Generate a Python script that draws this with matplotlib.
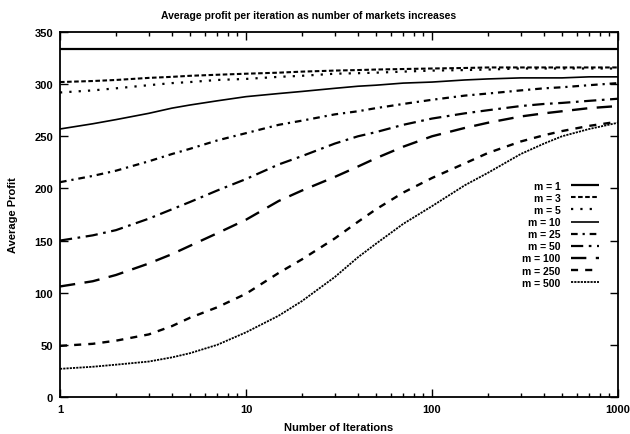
import matplotlib
matplotlib.use("Agg")
import matplotlib.pyplot as plt
from matplotlib.ticker import FixedLocator, LogLocator, NullFormatter

plt.rcParams['font.family'] = ['Liberation Sans', 'DejaVu Sans']
plt.rcParams['font.weight'] = 'bold'

iterations = [1, 1.5, 2, 3, 4, 5, 7, 10, 15, 20, 30, 40, 50, 70, 100,
              150, 200, 300, 400, 500, 700, 1000]
labels = ["m = 1", "m = 3", "m = 5", "m = 10", "m = 25", "m = 50",
          "m = 100", "m = 250", "m = 500"]
m1 = [334, 334, 334, 334, 334, 334, 334, 334, 334, 334, 334, 334, 334,
      334, 334, 334, 334, 334, 334, 334, 334, 334]
m3 = [302, 303, 304, 306, 307, 308, 309, 310, 311, 312, 313, 313.5, 314,
      314.5, 315, 315.5, 316, 316, 316, 316, 316, 316]
m5 = [292, 294, 296, 299, 301, 302, 304, 305, 307, 308, 310, 310.5, 311,
      312, 313, 313.5, 314, 315, 315, 315, 315, 315]
m10 = [257, 262, 266, 272, 277, 280, 284, 288, 291, 293, 296, 298, 299,
       301, 302, 304, 305, 306, 306, 306, 307, 307]
m25 = [206, 212, 217, 226, 233, 238, 246, 253, 261, 265, 271, 274, 277,
       281, 285, 289, 291, 294, 296, 297, 299, 301]
m50 = [150, 155, 160, 171, 180, 187, 198, 209, 223, 231, 243, 250, 254,
       261, 267, 272, 275, 279, 281, 282, 284, 286]
m100 = [106, 111, 117, 128, 137, 145, 157, 170, 188, 198, 211, 221, 229,
        240, 250, 258, 263, 269, 272, 274, 277, 279]
m250 = [49, 51, 54, 60, 68, 76, 86, 99, 119, 132, 152, 168, 180, 196,
        210, 224, 234, 245, 251, 255, 260, 264]
m500 = [27, 29, 31, 34, 38, 42, 50, 62, 78, 92, 115, 134, 147, 166, 183,
        203, 215, 233, 243, 250, 257, 263]
series = [m1, m3, m5, m10, m25, m50, m100, m250, m500]

styles = [
    dict(ls='-', lw=1.6),
    dict(ls=(0, (2.2, 1.2)), lw=1.5),
    dict(ls=(0, (1.0, 3.2)), lw=1.6),
    dict(ls='-', lw=1.2),
    dict(ls=(0, (3.0, 2.2, 1.0, 2.2)), lw=1.6),
    dict(ls=(0, (5.5, 2.5, 1.2, 2.5)), lw=1.6),
    dict(ls=(0, (6.5, 4.0)), lw=1.7),
    dict(ls=(0, (3.0, 3.0)), lw=1.7),
    dict(ls=(0, (1.2, 0.6)), lw=1.3),
]

fig = plt.figure(figsize=(6.3, 4.35), dpi=100)
ax = fig.add_axes([60/630, 1 - 398/435, 558/630, 365/435])

for lab, ys, st in zip(labels, series, styles):
    ax.plot(iterations, ys, color='black', label=lab,
            solid_capstyle='butt', dash_capstyle='butt', **st)

ax.set_xscale('log')
ax.set_xlim(1, 1000)
ax.set_ylim(0, 350)
ax.xaxis.set_major_locator(FixedLocator([1, 10, 100, 1000]))
ax.set_xticklabels(['1', '10', '100', '1000'])
ax.xaxis.set_minor_locator(LogLocator(base=10, subs=range(2, 10)))
ax.xaxis.set_minor_formatter(NullFormatter())
ax.set_yticks([0, 50, 100, 150, 200, 250, 300, 350])

ax.tick_params(which='both', direction='in', top=True, right=True,
               labelsize=8, width=1.0)
ax.tick_params(which='major', length=6, pad=5)
ax.tick_params(which='minor', length=3)
for s in ax.spines.values():
    s.set_linewidth(1.3)

ax.set_title("Average profit per iteration as number of markets increases",
             fontsize=7.5, fontweight='bold', pad=10, x=0.445)
ax.set_xlabel("Number of Iterations", fontsize=8, fontweight='bold', labelpad=6)
ax.set_ylabel("Average Profit", fontsize=8, fontweight='bold', labelpad=12)

leg = ax.legend(loc='upper right', bbox_to_anchor=(0.966, 0.592),
                frameon=False, markerfirst=False, fontsize=7.5,
                handlelength=2.7, handletextpad=1.0, labelspacing=0.2,
                borderpad=0, borderaxespad=0)

fig.savefig("out.png", dpi=100)
